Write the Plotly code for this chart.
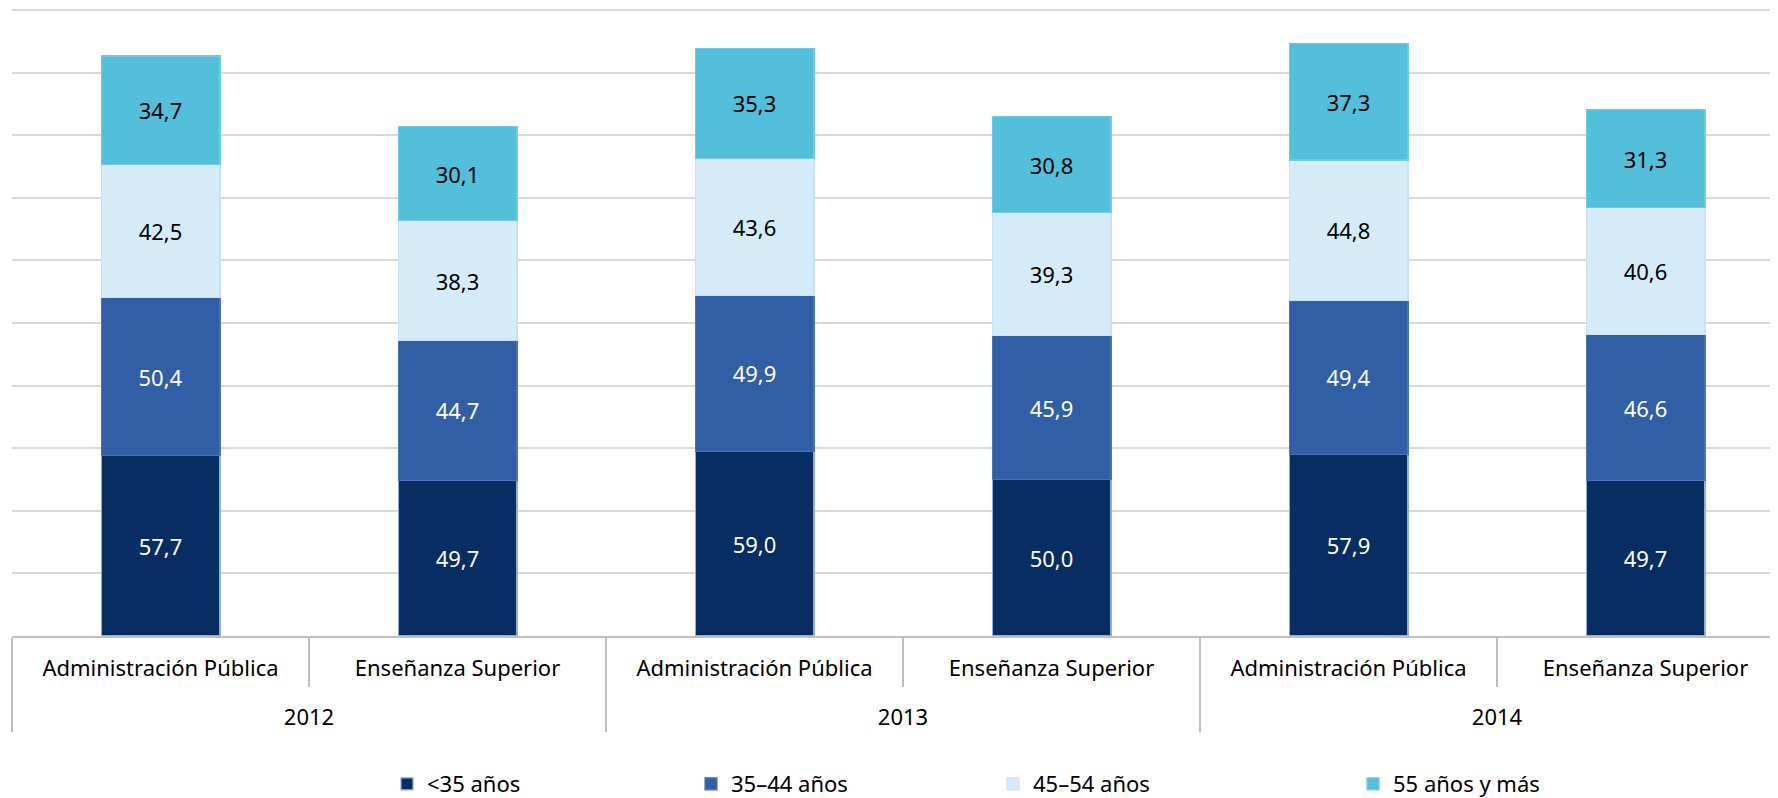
import plotly.graph_objects as go

years = ["2012", "2012", "2013", "2013", "2014", "2014"]
sectors = ["Administración Pública", "Enseñanza Superior"] * 3

series_names = ["<35 años", "35–44 años", "45–54 años", "55 años y más"]
v_lt35 = [57.7, 49.7, 59.0, 50.0, 57.9, 49.7]
v_35_44 = [50.4, 44.7, 49.9, 45.9, 49.4, 46.6]
v_45_54 = [42.5, 38.3, 43.6, 39.3, 44.8, 40.6]
v_55 = [34.7, 30.1, 35.3, 30.8, 37.3, 31.3]
series_values = [v_lt35, v_35_44, v_45_54, v_55]

colors = ["#082d62", "#325ea6", "#d6ebf8", "#53bfdb"]
line_colors = ["#8eaedc", "#4a72b8", "#c8e2f4", "#6fcbe3"]
text_colors = ["white", "white", "black", "black"]

FONT = "Noto Sans"
OFF = 8  # page body margin
W, H = 1778, 798
L, R, T, B = 12 - OFF, 0, 0, 798 - (636 - OFF)
pw = W - L - R
ph = H - T - B
YMAX = 200 * ph / (636 - 10)

# outer (year) labels pushed down one line to sit in the second row
year_labels = ["<br>" + y for y in years]

fig = go.Figure()
legend_centers = [404, 708, 1010, 1370]  # page px of legend swatches
for i, (name, vals) in enumerate(zip(series_names, series_values)):
    lg = "legend" if i == 0 else f"legend{i+1}"
    fig.add_trace(go.Bar(
        x=[year_labels, sectors], y=vals, name=name,
        marker=dict(color=colors[i], line=dict(color=line_colors[i], width=1.2)),
        width=0.4,
        text=vals, texttemplate="%{y:.1f}", textposition="inside",
        insidetextanchor="middle",
        textfont=dict(family=FONT, size=22, color=text_colors[i]),
        legend=lg,
    ))

legend_common = dict(orientation="h", yanchor="middle", xanchor="left",
                     y=(T + ph - (784 - OFF)) / ph,
                     font=dict(family=FONT, size=22, color="black"),
                     bgcolor="rgba(0,0,0,0)", itemwidth=30)
layout_legends = {}
for i, c in enumerate(legend_centers):
    key = "legend" if i == 0 else f"legend{i+1}"
    layout_legends[key] = dict(legend_common, x=(c - 17 - OFF - L) / pw)

fig.update_layout(
    width=W, height=H,
    margin=dict(l=L, r=R, t=T, b=B, autoexpand=False),
    barmode="stack",
    separators=",.",
    plot_bgcolor="white", paper_bgcolor="white",
    font=dict(family=FONT, size=22, color="black"),
    showlegend=True,
    **layout_legends,
)
fig.update_xaxes(
    type="multicategory", automargin=False,
    range=[-0.5, 5.5 - (1794 - 1778 - OFF) / 297],
    showgrid=False,
    showline=True, linecolor="#bfbfbf", linewidth=1.5,
    ticks="outside", ticklen=49, tickcolor="#bfbfbf", tickwidth=1.5,
    ticklabelstandoff=12,
    showdividers=True, dividercolor="#bfbfbf", dividerwidth=1.5,
    tickfont=dict(family=FONT, size=22, color="black"),
)
fig.update_yaxes(
    automargin=False,
    range=[0, YMAX], dtick=20, showticklabels=False,
    showgrid=True, gridcolor="#d9d9d9", gridwidth=1.5,
    zeroline=False, showline=False,
)
fig.write_html("out.html")
